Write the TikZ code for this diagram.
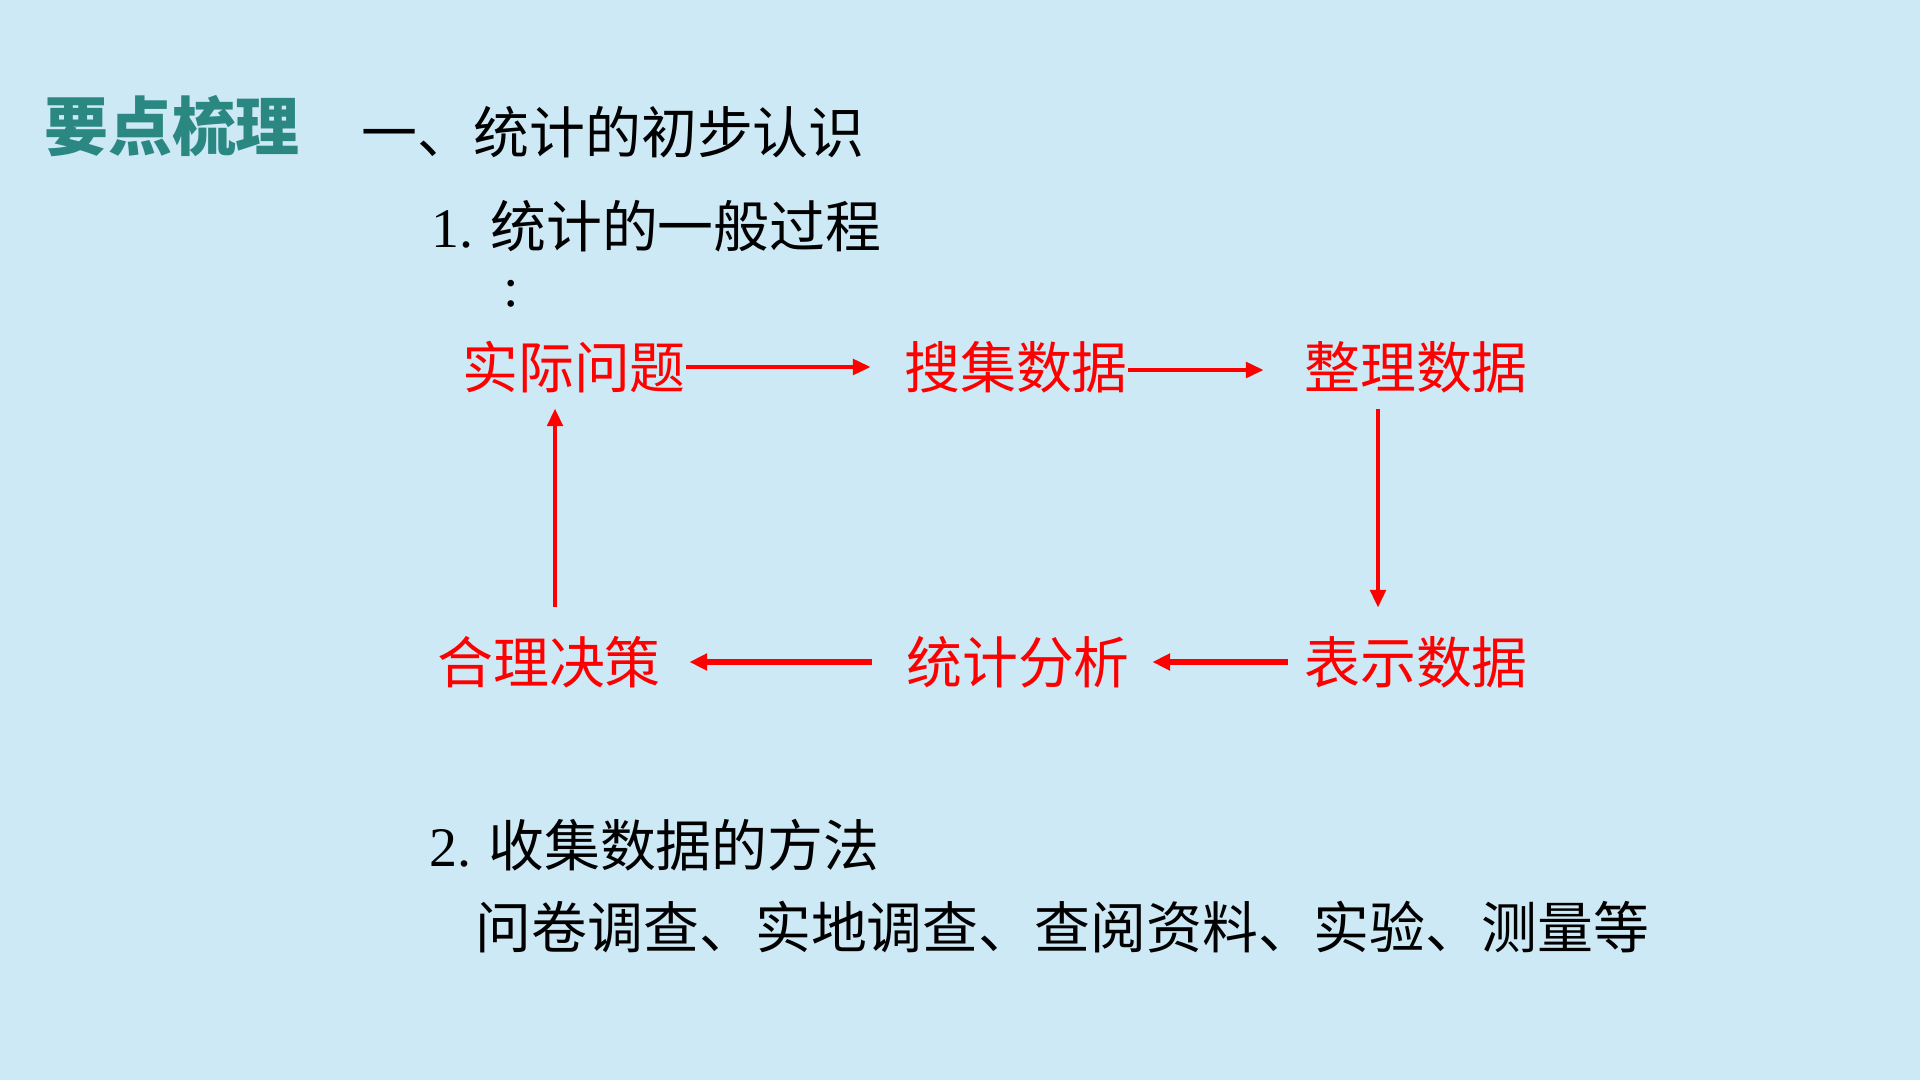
\documentclass[tikz,border=0pt]{standalone}
\usepackage{fontspec}
\setmainfont{Noto Sans CJK SC}
\newfontfamily\numfont{Liberation Serif}
\usetikzlibrary{arrows.meta}
\definecolor{bgblue}{RGB}{205,233,245}
\definecolor{titleteal}{RGB}{42,135,130}
\begin{document}
\begin{tikzpicture}[x=1cm,y=1cm,
  txt/.style={inner sep=0pt,font=\fontsize{15.9}{18}\selectfont},
  stage/.style={txt,text=red},
  flow/.style={draw=red,line width=1.1pt,-{Triangle[length=5pt,width=4.4pt]}},
  thickflow/.style={flow,line width=1.7pt,-{Triangle[length=5pt,width=4.6pt]}}]
%background
\fill[bgblue] (0,0) rectangle (19.2,-10.8);
\useasboundingbox (0,0) rectangle (19.2,-10.8);

\node[txt,text=titleteal,font=\fontsize{18.2}{20}\selectfont\bfseries] (title) at (1.72,-1.26){要点梳理};
\node[txt,anchor=west] (sec1) at (3.61,-1.32){一、统计的初步认识};
\node[txt,anchor=west] (sub1) at (4.31,-2.26){{\numfont 1.} 统计的一般过程};
\node[txt,font=\fontsize{15.9}{18}\numfont] (colon) at (5.11,-2.94){:};

%the cycle
\node[stage] (q1) at (5.74,-3.67){实际问题};
\node[stage] (q2) at (10.16,-3.67){搜集数据};
\node[stage] (q3) at (14.16,-3.67){整理数据};
\node[stage] (q4) at (14.16,-6.62){表示数据};
\node[stage] (q5) at (10.18,-6.62){统计分析};
\node[stage] (q6) at (5.49,-6.62){合理决策};

\draw[flow,shorten >=3.3mm] (q1.east) -- (q2.west);
\draw[flow,shorten >=4mm] ([yshift=-0.3mm]q2.east) -- ([yshift=-0.3mm]q3.west);
\draw[flow,shorten <=1.5mm,shorten >=2.8mm] ([xshift=-3.8mm]q3.south) -- ([xshift=-3.8mm]q4.north);
\draw[thickflow,shorten <=1.6mm,shorten >=2.2mm] (q4.west) -- (q5.east);
\draw[thickflow,shorten <=3.4mm,shorten >=2.8mm] (q5.west) -- (q6.east);
\draw[flow,shorten <=2.8mm,shorten >=1.5mm] ([xshift=0.6mm]q6.north) -- ([xshift=0.6mm]q6.north |- q1.south);

\node[txt,anchor=west] (sub2) at (4.29,-8.45){{\numfont 2.} 收集数据的方法};
\node[txt,anchor=west] (ways) at (4.75,-9.27){问卷调查、实地调查、查阅资料、实验、测量等};
\end{tikzpicture}
\end{document}
